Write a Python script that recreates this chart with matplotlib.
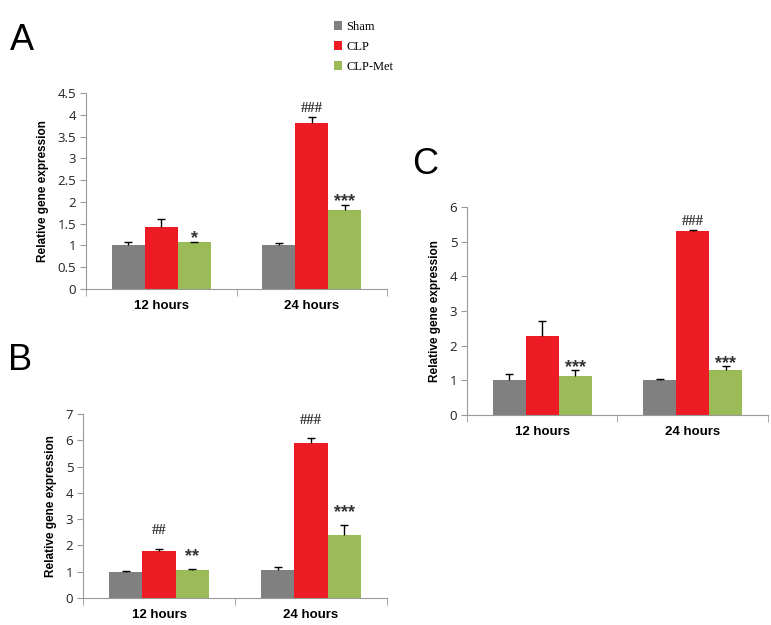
import numpy as np
import matplotlib.pyplot as plt
from matplotlib.patches import Patch

# Data
groups = ['Sham', 'CLP', 'CLP-Met']
categories = ['12 hours', '24 hours']
colors = ['#808080', '#ED1C24', '#9BBB59']

# Panel A
a_means = [[1.00, 1.02], [1.43, 3.80], [1.07, 1.81]]
a_errs = [[0.08, 0.03], [0.18, 0.16], [0.02, 0.12]]
a_marks = [['', ''], ['', '###'], ['*', '***']]

# Panel B
b_means = [[0.99, 1.05], [1.77, 5.90], [1.05, 2.40]]
b_errs = [[0.05, 0.13], [0.11, 0.20], [0.04, 0.38]]
b_marks = [['', ''], ['##', '###'], ['**', '***']]

# Panel C
c_means = [[1.00, 1.02], [2.27, 5.32], [1.12, 1.31]]
c_errs = [[0.17, 0.03], [0.45, 0.03], [0.17, 0.09]]
c_marks = [['', ''], ['', '###'], ['***', '***']]

plt.rcParams['font.family'] = 'Liberation Sans'


def draw_panel(ax, means, errs, marks, ymax, ystep, mark_pad):
    x = np.arange(len(categories)) + 0.5
    width = 0.22
    for i in range(len(groups)):
        xs = x + (i - 1) * width
        ax.bar(xs, means[i], width, color=colors[i], edgecolor='none',
               zorder=2)
        eb = ax.errorbar(xs, means[i], yerr=[np.zeros(2), errs[i]],
                         fmt='none', ecolor='black', elinewidth=1,
                         capsize=3, capthick=1, zorder=3)
        # only the upper cap is shown
        eb[1][0].set_visible(False)
        for j in range(len(categories)):
            m = marks[i][j]
            if m:
                top = means[i][j] + errs[i][j]
                if '#' in m:
                    ax.annotate(m, (xs[j], top), xytext=(0, mark_pad),
                                textcoords='offset points', ha='center',
                                va='bottom', fontsize=10.5, fontweight='bold',
                                family='Liberation Serif', color='#333333')
                else:
                    ax.annotate(m, (xs[j], top),
                                xytext=(0, mark_pad - 5),
                                textcoords='offset points', ha='center',
                                va='bottom', fontsize=13, fontweight='bold',
                                color='#333333')
    ax.set_xlim(0, 2)
    ax.set_ylim(0, ymax)
    ax.set_yticks(np.arange(0, ymax + 1e-9, ystep))
    ax.set_yticklabels([('%g' % v) for v in np.arange(0, ymax + 1e-9, ystep)],
                       family='Open Sans', fontsize=9.5, color='#222222')
    ax.set_xticks(x)
    ax.set_xticklabels(categories, fontsize=9.5, fontweight='bold')
    ax.set_xticks([0, 1, 2], minor=True)
    ax.tick_params(axis='x', which='major', length=0, pad=8)
    ax.tick_params(axis='x', which='minor', length=5, color='#999999')
    ax.tick_params(axis='y', length=4, color='#999999', pad=3)
    ax.set_ylabel('Relative gene expression', fontsize=8.5,
                  fontweight='bold', labelpad=6)
    for s in ['top', 'right']:
        ax.spines[s].set_visible(False)
    for s in ['left', 'bottom']:
        ax.spines[s].set_color('#999999')
        ax.spines[s].set_linewidth(0.8)


fig = plt.figure(figsize=(7.71, 6.25), dpi=100)

ax_a = fig.add_axes([0.1115, 0.5376, 0.3905, 0.3136])
draw_panel(ax_a, a_means, a_errs, a_marks, 4.5, 0.5, 1)

ax_b = fig.add_axes([0.1077, 0.0432, 0.3943, 0.2944])
draw_panel(ax_b, b_means, b_errs, b_marks, 7, 1, 8)

ax_c = fig.add_axes([0.6057, 0.3360, 0.3903, 0.3328])
draw_panel(ax_c, c_means, c_errs, c_marks, 6, 1, 1)

# Panel letters
fig.text(0.013, 0.936, 'A', fontsize=26, va='center')
fig.text(0.011, 0.424, 'B', fontsize=26, va='center')
fig.text(0.534, 0.737, 'C', fontsize=26, va='center')

# Legend
handles = [Patch(facecolor=c, edgecolor='none') for c in colors]
fig.legend(handles, groups, loc='upper left', bbox_to_anchor=(0.418, 0.985),
           frameon=False, prop={'family': 'Liberation Serif', 'size': 9},
           handlelength=0.7, handleheight=0.7, handletextpad=0.3,
           labelspacing=0.65)

fig.savefig('out.png', dpi=100)
